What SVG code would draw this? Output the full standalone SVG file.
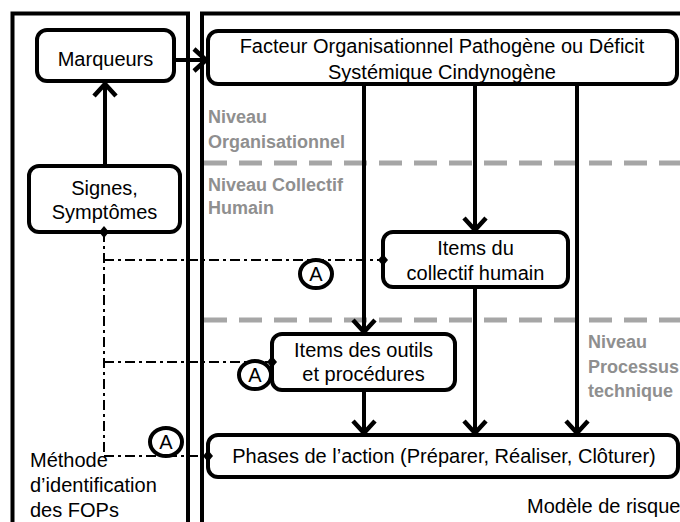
<svg xmlns="http://www.w3.org/2000/svg" width="680" height="522" viewBox="0 0 680 522">
<defs>
<style>
.box{fill:#fff;stroke:#000;stroke-width:4}
.panel{fill:none;stroke:#000;stroke-width:4}
.t{font-family:"Liberation Sans",Arial,sans-serif;font-size:20px;fill:#000;text-anchor:middle}
.tl{font-family:"Liberation Sans",Arial,sans-serif;font-size:20px;fill:#000}
.g{font-family:"Liberation Sans",Arial,sans-serif;font-size:18px;font-weight:bold;fill:#8f8f8f}
.lvl{fill:none;stroke:#a6a6a6;stroke-width:5;stroke-dasharray:23 12}
.arr{fill:none;stroke:#000;stroke-width:4;marker-end:url(#ah)}
.dd{fill:none;stroke:#000;stroke-width:2;stroke-dasharray:10 4 3 4}
.circ{fill:#fff;stroke:#000;stroke-width:4}
.dia{fill:#000}
</style>
<marker id="ah" viewBox="0 0 16 26" refX="14" refY="13" markerWidth="16" markerHeight="26" orient="auto" markerUnits="userSpaceOnUse">
<path d="M2,2 L14,13 L2,24" fill="none" stroke="#000" stroke-width="4.5"/>
</marker>
</defs>
<rect width="680" height="522" fill="#fff"/>
<g id="panels">
<rect class="panel" x="12.5" y="13.5" width="175.5" height="530"/>
<rect class="panel" x="202" y="13.5" width="500" height="530"/>
</g>
<g id="levels">
<line class="lvl" x1="204" y1="163" x2="680" y2="163"/>
<line class="lvl" x1="204" y1="320" x2="680" y2="320"/>
<text class="g" x="208" y="123">Niveau</text>
<text class="g" x="208" y="148">Organisationnel</text>
<text class="g" x="208" y="191">Niveau Collectif</text>
<text class="g" x="208" y="214">Humain</text>
<text class="g" x="588" y="348">Niveau</text>
<text class="g" x="588" y="373">Processus</text>
<text class="g" x="588" y="397">technique</text>
</g>
<g id="connectors">
<line class="arr" x1="105" y1="166" x2="105" y2="84"/>
<line class="arr" x1="174" y1="60" x2="206" y2="60"/>
<line class="arr" x1="364" y1="84" x2="364" y2="332"/>
<line class="arr" x1="475" y1="84" x2="475" y2="230"/>
<line class="arr" x1="577" y1="84" x2="577" y2="433"/>
<line class="arr" x1="364" y1="390" x2="364" y2="433"/>
<line class="arr" x1="475" y1="287" x2="475" y2="433"/>
<path class="dd" d="M104,232 L104,456"/>
<path class="dd" d="M104,260 L383,260"/>
<path class="dd" d="M104,362 L272,362"/>
<path class="dd" d="M104,456 L208,456"/>
</g>
<g id="marqueurs">
<rect class="box" x="37" y="30" width="137" height="51" rx="10"/>
<text class="t" x="105.5" y="66">Marqueurs</text>
</g>
<g id="signes">
<rect class="box" x="29" y="166" width="151" height="66" rx="10"/>
<text class="t" x="104.5" y="195">Signes,</text>
<text class="t" x="104.5" y="219">Symptômes</text>
</g>
<g id="facteur">
<rect class="box" x="208" y="31" width="469" height="53" rx="10"/>
<text class="t" x="442" y="53">Facteur Organisationnel Pathogène ou Déficit</text>
<text class="t" x="442" y="79">Systémique Cindynogène</text>
</g>
<g id="collectif">
<rect class="box" x="383" y="232" width="185" height="55" rx="10"/>
<text class="t" x="475.5" y="255">Items du</text>
<text class="t" x="475.5" y="280">collectif humain</text>
</g>
<g id="outils">
<rect class="box" x="272" y="334" width="183" height="56" rx="10"/>
<text class="t" x="363.5" y="357">Items des outils</text>
<text class="t" x="363.5" y="381">et procédures</text>
</g>
<g id="phases">
<rect class="box" x="208" y="435" width="470" height="42" rx="10"/>
<text class="t" x="444" y="463">Phases de l’action (Préparer, Réaliser, Clôturer)</text>
</g>
<g id="diamonds">
<path class="dia" d="M104,226 L109,232 L104,238 L99,232 Z"/>
<path class="dia" d="M383,254 L388,260 L383,266 L378,260 Z"/>
<path class="dia" d="M272,356 L277,362 L272,368 L267,362 Z"/>
<path class="dia" d="M208,450 L213,456 L208,462 L203,456 Z"/>
</g>
<g id="markers-a">
<ellipse class="circ" cx="316" cy="274" rx="16" ry="14"/>
<text class="t" x="316" y="281">A</text>
<ellipse class="circ" cx="255" cy="375" rx="16" ry="14"/>
<text class="t" x="255" y="382">A</text>
<ellipse class="circ" cx="166" cy="442" rx="16" ry="14"/>
<text class="t" x="166" y="449">A</text>
</g>
<g id="labels">
<text class="tl" x="30" y="467">Méthode</text>
<text class="tl" x="30" y="492">d’identification</text>
<text class="tl" x="30" y="517">des FOPs</text>
<text class="tl" x="527" y="513">Modèle de risque</text>
</g>
</svg>
